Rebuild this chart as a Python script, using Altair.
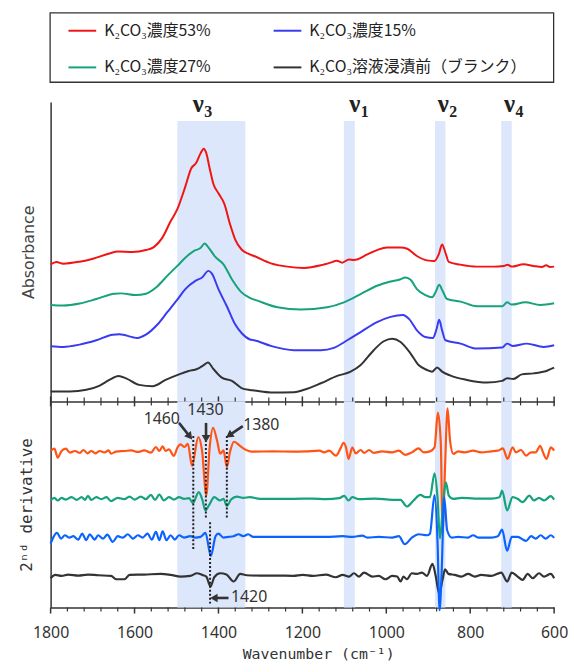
import math
import altair as alt
import pandas as pd

# ---------------- series ----------------
SERIES = ["K₂CO₃濃度53%", "K₂CO₃濃度15%", "K₂CO₃濃度27%", "K₂CO₃溶液浸漬前（ブランク）"]
TOP_COLORS = ["#f21414", "#3a3af2", "#16a27a", "#333333"]
BOT_COLORS = ["#ff5416", "#0b62ff", "#16a27a", "#333333"]
LEGEND_ORDER = [0, 2, 1, 3]   # legend fills column by column

# ---------------- absorbance (upper panel, a.u. as read) ----------------
abs53_wn = [1800, 1786, 1770, 1731, 1699, 1660, 1640, 1605, 1573, 1554, 1534, 1514, 1498, 1479, 1465, 1453,
            1443, 1435, 1430, 1420, 1412, 1400, 1386, 1372, 1360, 1345, 1329, 1315, 1275, 1236, 1196, 1156,
            1133, 1118, 1105, 1089, 1077, 1045, 1022, 998, 966, 950, 927, 903, 885, 875, 867, 859, 851, 824,
            784, 744, 720, 711, 701, 673, 649, 629, 619, 610, 600]
abs53_val = [138.3, 140.7, 139, 141, 144, 149.3, 151.3, 150.7, 152.7, 155.7, 165, 181.7, 194, 216.7, 235, 240.7,
             250, 255, 251.7, 233.3, 219.3, 210, 199.3, 178.3, 163.3, 153.3, 149, 146.7, 139.3, 136, 134.7, 137.3,
             140, 142, 140, 143.3, 142.7, 148.3, 152.7, 155.3, 155.3, 154, 146.7, 142.3, 141.7, 148.3, 158.3, 150,
             140.7, 138, 136, 136, 136.7, 138, 136, 138.3, 136.7, 135.7, 137.3, 135.7, 136]

abs27_wn = [1800, 1770, 1731, 1691, 1648, 1632, 1597, 1573, 1546, 1522, 1498, 1479, 1459, 1443, 1433, 1425,
            1408, 1388, 1368, 1345, 1325, 1307, 1259, 1204, 1141, 1101, 1061, 1022, 990, 970, 954, 942, 927,
            907, 891, 881, 874, 866, 855, 823, 784, 724, 712, 701, 669, 633, 600]
abs27_val = [97.3, 96.7, 98.7, 103.3, 108.7, 109, 107.3, 108.7, 116, 126.7, 136.7, 145, 151.7, 154.7, 159.3, 156,
             146, 138.3, 123.3, 110, 104.5, 101.7, 95, 92.7, 95, 100, 108.3, 116.7, 121, 122.7, 125, 122.7, 113.3,
             107.3, 105, 111.7, 117.7, 111.7, 103.3, 100.7, 96, 96, 100, 97.7, 100, 97.3, 99]

abs15_wn = [1800, 1770, 1731, 1691, 1652, 1636, 1593, 1573, 1546, 1522, 1498, 1479, 1455, 1439, 1424, 1416,
            1400, 1380, 1361, 1345, 1325, 1315, 1275, 1220, 1156, 1125, 1093, 1061, 1022, 990, 960, 946, 927,
            907, 889, 880, 874, 867, 859, 823, 784, 724, 712, 698, 665, 625, 600]
abs15_val = [55.7, 55, 57.3, 61.7, 67.3, 67.7, 64, 67.3, 77.3, 90, 102.7, 113.3, 121.7, 125, 131.7, 129.3,
             113.3, 96, 78.3, 69, 62.5, 61.7, 56, 51.7, 51.7, 54, 61.7, 70, 80, 85.3, 87.3, 83.3, 71.7,
             65, 64, 73.3, 82.3, 71.7, 61.7, 58.3, 53.3, 54.3, 58.3, 56, 58.3, 55, 56.7]

abs0_wn = [1800, 1754, 1715, 1683, 1660, 1638, 1620, 1589, 1557, 1526, 1494, 1471, 1451, 1435, 1425, 1412,
           1392, 1368, 1345, 1325, 1315, 1275, 1220, 1196, 1156, 1117, 1085, 1061, 1030, 1006, 986, 966, 942,
           923, 903, 891, 879, 867, 847, 808, 760, 724, 712, 697, 677, 649, 617, 600]
abs0_val = [10, 10, 11.7, 16, 21.7, 25.7, 23.3, 16.7, 15.3, 21.7, 27.3, 30.7, 32.7, 36.7, 39.3, 32.7,
            24, 20.7, 13.5, 11.5, 11, 9, 9.3, 11.7, 18.3, 25.7, 30, 36.7, 51.7, 60.7, 63.3, 60, 48.3,
            36.7, 31.7, 30, 34.3, 30, 26, 21.7, 19, 20.7, 23.3, 22.7, 27.3, 28.3, 31, 34]

# ---------------- 2nd derivative (lower panel, relative to own baseline) ----------------
d53_wn = [1800, 1791, 1783, 1774, 1764, 1754, 1742, 1730, 1722, 1712, 1703, 1693, 1683, 1671, 1662, 1656,
          1644, 1624, 1608, 1592, 1577, 1561, 1549, 1541, 1533, 1526, 1518, 1506, 1498, 1490, 1481, 1473,
          1463, 1448, 1439, 1429, 1421, 1413, 1403, 1396, 1388, 1380, 1372, 1363, 1348, 1337, 1321, 1270,
          1222, 1191, 1159, 1148, 1136, 1120, 1108, 1102, 1096, 1090, 1081, 1073, 1061, 1053, 1041, 1030,
          1010, 986, 970, 955, 939, 923, 911, 896, 885, 877, 870, 866, 860, 854, 848, 840, 829, 813, 793,
          774, 750, 734, 722, 711, 699, 691, 679, 667, 655, 644, 633, 628, 618, 608, 600]
d53_val = [0.7, 3, -6, 0.7, 3, -1, 0.7, -1.3, 1.7, -1.7, 0.7, -1.7, 0.7, -0.7, 1.3, -2,
           0, 0.7, 1.3, -0.3, 1.3, -1, 4.7, 0.7, 5.3, 0.7, 2.3, -4.3, 4, 7.3, 4.7, 8,
           -14.3, 14.7, 0.7, -44, 4, 24, 10.7, -2, 1.3, -15.3, 0.7, 10, 5.7, 2.3, 0, 0.3,
           0, 0.3, 1, -0.7, 1, -4, 4.3, 9, 4.3, -7.3, 4.3, -1.7, 1.7, -1.3, 1.7, -1.3,
           0.3, -0.7, 1, -3.3, -0.7, 3.3, -0.7, 0.3, 4.3, 39.3, 7.7, -82.3, -15.7, 43.7, 11, -2.3, 0.3, -0.7, 1,
           -0.7, 0.3, 1, 3.3, -7.3, 4.3, -0.7, 1.7, -4, -0.7, -0.7, 6, 1, -7.3, 4.3, 1]

d27_wn = [1800, 1791, 1783, 1774, 1764, 1750, 1738, 1726, 1718, 1711, 1703, 1691, 1679, 1667, 1656, 1640,
          1624, 1612, 1600, 1585, 1573, 1561, 1551, 1541, 1530, 1518, 1506, 1494, 1482, 1470, 1461, 1447,
          1439, 1431, 1422, 1410, 1396, 1388, 1380, 1370, 1356, 1341, 1325, 1301, 1262, 1222, 1175, 1144,
          1112, 1100, 1090, 1081, 1065, 1026, 986, 966, 951, 935, 919, 907, 896, 885, 878, 872, 864, 858,
          851, 840, 821, 789, 750, 730, 724, 712, 699, 687, 675, 659, 648, 636, 624, 608, 600]
d27_val = [-1.7, 1, -1.7, 1, -0.7, 1.7, -1, 1.7, -1, 3, -1, 1.7, -0.3, 1.7, -2.3, 1,
           -0.3, 2.3, -0.7, 2.3, -0.3, 4, -1, 4.3, -1.7, 1.7, -0.7, 1.7, 0, 0.7, -4.3, 6.7,
           0, -11.7, -6, 1.7, -1.7, 0, -7, -0.7, 2.3, 1, 1.7, 0, 0, 0, 0.3, -0.3,
           0.7, 3, -1.7, 1.7, -0.3, 0.3, -1, -1, -7.7, -1.7, 4, 1.7, 1.7, 25.7, 1.7, -40, -1.7, 16.7,
           3.3, 0, 1, 0.3, 0.3, 1.7, 8.3, -11.7, 1.7, 0, -3.3, 3.3, -1.7, 1, -1.7, 2.7, -0.7]

d15_wn = [1800, 1793, 1785, 1775, 1766, 1756, 1746, 1734, 1725, 1715, 1707, 1695, 1687, 1675, 1665, 1652,
          1640, 1628, 1616, 1604, 1592, 1581, 1569, 1559, 1549, 1541, 1533, 1524, 1514, 1504, 1494, 1482,
          1467, 1455, 1443, 1431, 1418, 1407, 1400, 1388, 1376, 1364, 1352, 1341, 1329, 1317, 1262, 1222,
          1144, 1104, 1081, 1057, 1045, 1018, 986, 970, 956, 939, 923, 903, 896, 885, 878, 873, 868, 862,
          855, 844, 829, 805, 793, 781, 750, 734, 724, 712, 701, 687, 667, 655, 644, 632, 620, 608, 600]
d15_val = [-6.7, 0, 4, -1.7, 1.7, -0.7, 0.7, -2.7, 3.3, -3.3, 2.7, -2.7, 1.7, -1.7, 2.3, -5,
           0.7, -0.7, 2.7, -1.7, 1.7, -0.7, 3.3, -2.7, 5, -3.3, 5.7, -3.3, 1.7, -2.7, 1.7, -0.7,
           0.7, -0.7, 0, 4, -19.3, 0.7, 3.3, -0.7, 0, 0.7, 2.7, 0.7, 2.7, 0, 0, 0,
           0, 0.7, 0, 1.3, -0.7, 0, -0.7, 0.7, -7.3, -0.7, 2.7, 1.7, 3.3, 42.3, -3.3, -74, -35, 40,
           6.7, -0.7, 0, -0.7, 1.7, -0.7, -0.7, 0.7, 7.3, -14, 0, 0, -4, 0.7, -1.7, 1.7, -1.7, 1.7, -1]

d0_wn = [1800, 1789, 1774, 1758, 1734, 1711, 1687, 1656, 1644, 1624, 1612, 1577, 1537, 1514, 1490, 1467,
         1451, 1439, 1429, 1419, 1410, 1396, 1381, 1364, 1348, 1333, 1301, 1262, 1222, 1199, 1175, 1144,
         1120, 1104, 1089, 1077, 1065, 1053, 1033, 1018, 1002, 986, 974, 966, 959, 951, 939, 927, 915,
         903, 890, 882, 874, 866, 860, 852, 837, 821, 805, 789, 774, 750, 726, 712, 701, 687, 675, 663,
         651, 636, 624, 608, 600]
d0_val = [-2.7, 0.7, -0.3, 1, 0, 1, 0.3, -0.3, -3.7, -3.7, 0.7, 1, 1.7, 0.7, -1, -0.3,
          2.3, 0.7, -1, -11, -1.7, 2.3, 1, -6, 1.7, 0.3, 0, 0, -0.3, 0.7, -0.3, 1,
          -1.7, 0.7, -1, 2.3, -1, 3, -1, -0.3, -3.7, -0.3, -1, -6, -1, -3.7, 2.3, 1.7, 3,
          -0.3, 11.7, -1, -18.3, -4.3, 6.3, 1.7, 0.7, -1, 1.7, -1, 0.7, -0.3, 3, -6, 3, -1, -4.3, 1.7,
          -2.7, 2.3, -1, 1.7, -2.7]

DERIV_OFFSET = [157.3, 71.3, 109.7, 32.3]   # vertical stacking of the derivative traces

# ---------------- bands and labels ----------------
band_name = ["ν3", "ν1", "ν2", "ν4"]
band_start = [1498, 1101, 884, 726]
band_end = [1336, 1075, 859, 701]
nu_wn = [1448, 1075, 864, 706]
nu_sub = ["3", "1", "2", "4"]

# ---------------- 2nd-derivative annotations ----------------
mark_wn = [1460, 1430, 1380, 1420]
mark_top = [173, 173, 173, 86]
mark_bottom = [58, 90, 90, 3]
ann_text = ["1460", "1430", "1380", "1420"]
ann_wn = [1535, 1431, 1298, 1327]
ann_val = [190.5, 199, 184, 10.5]
arr_from_wn = [1494, 1429.6, 1342, 1376]
arr_from_val = [186.3, 186.3, 183, 9.7]
arr_to_wn = [1470, 1429.6, 1372, 1408]
arr_to_val = [173.5, 171.5, 174.5, 9.7]

# ---------------- axis ticks ----------------
tick_major = [1800, 1600, 1400, 1200, 1000, 800, 600]
tick_minor = [t for t in range(600, 1801, 40) if t % 200 != 0]

# ---------------- layout constants ----------------
W, H_TOP, H_BOT = 508, 302, 208
BAND_COLOR = "#dce7fb"
AX = "#333333"

xs = alt.Scale(domain=[600, 1800], reverse=True, nice=False, zero=False)
ys_top = alt.Scale(domain=[0, H_TOP], nice=False, zero=False)
ys_bot = alt.Scale(domain=[0, H_BOT], nice=False, zero=False)


def frame(wn, val, name, offset=0.0):
    return pd.DataFrame({"wn": wn, "val": [v + offset for v in val], "series": name})


top_df = pd.concat([frame(abs53_wn, abs53_val, SERIES[0]), frame(abs15_wn, abs15_val, SERIES[1]),
                    frame(abs27_wn, abs27_val, SERIES[2]), frame(abs0_wn, abs0_val, SERIES[3])])
bot_frames = {
    SERIES[0]: frame(d53_wn, d53_val, SERIES[0], DERIV_OFFSET[0]),
    SERIES[1]: frame(d15_wn, d15_val, SERIES[1], DERIV_OFFSET[1]),
    SERIES[2]: frame(d27_wn, d27_val, SERIES[2], DERIV_OFFSET[2]),
    SERIES[3]: frame(d0_wn, d0_val, SERIES[3], DERIV_OFFSET[3]),
}
band_df = pd.DataFrame({"name": band_name, "start": band_start, "end": band_end})
nu_df = pd.DataFrame({"wn": nu_wn, "sub": nu_sub})
ticks_df = pd.DataFrame({"t": tick_major + tick_minor,
                         "major": [True] * len(tick_major) + [False] * len(tick_minor)})
mark_df = pd.DataFrame({"wn": mark_wn, "top": mark_top, "bottom": mark_bottom})
ann_df = pd.DataFrame({"text": ann_text, "wn": ann_wn, "val": ann_val})
px_x = W / 1200.0
angles = []
for fw, fv, tw, tv in zip(arr_from_wn, arr_from_val, arr_to_wn, arr_to_val):
    dx = (fw - tw) * px_x
    dy = (fv - tv)
    angles.append(math.degrees(math.atan2(dx, -dy)) % 360)
arr_df = pd.DataFrame({"fw": arr_from_wn, "fv": arr_from_val, "tw": arr_to_wn, "tv": arr_to_val, "ang": angles})

# ---------------- axes ----------------
x_top_axis = alt.Axis(labels=False, ticks=False, title=None, grid=False, domainColor=AX, domainWidth=1.5)
y_top_axis = alt.Axis(labels=False, ticks=False, grid=False, title="Absorbance", titleFont="DejaVu Sans",
                      titleFontSize=16, titleFontWeight="normal", titleColor="#444444", titlePadding=14,
                      domainColor=AX, domainWidth=1.5)
x_bot_axis = alt.Axis(values=tick_major, format="d", ticks=False, tickSize=0, grid=False, labelPadding=17,
                      labelFont="Noto Sans", labelFontSize=16, labelColor="#333333",
                      title="Wavenumber (cm⁻¹)", titleFont="DejaVu Sans Mono", titleFontSize=15,
                      titleFontWeight="normal", titleColor="#333333", titlePadding=6, titleX=270,
                      domainColor=AX, domainWidth=1.5, labelFlush=False)
y_bot_axis = alt.Axis(labels=False, ticks=False, grid=False, title="2ⁿᵈ derivative", titleFont="DejaVu Sans Mono",
                      titleFontSize=16, titleFontWeight="normal", titleColor="#333333", titlePadding=16,
                      domainColor=AX, domainWidth=1.5)

# ---------------- upper panel ----------------
bands_top = alt.Chart(band_df).mark_rect(color=BAND_COLOR).encode(
    x=alt.X("start:Q", scale=xs, axis=x_top_axis), x2="end:Q",
    y=alt.value(19), y2=alt.value(H_TOP))

legend = alt.Legend(orient="none", legendX=17, legendY=-87, columns=2, title=None,
                    symbolType="stroke", symbolSize=784, symbolStrokeWidth=2, symbolOffset=0,
                    labelOffset=7, labelFont="Noto Sans CJK JP", labelFontSize=16, labelColor="#222222",
                    labelLimit=400, columnPadding=59, rowPadding=14, padding=0)

# frame drawn around the legend entries
legend_box = alt.Chart(pd.DataFrame({"box": [0]})).mark_rect(
    filled=False, stroke="#333333", strokeWidth=1.3).encode(
    x=alt.value(-0.5), x2=alt.value(W - 0.5), y=alt.value(-90), y2=alt.value(-20))

lines_top = alt.Chart(top_df).mark_line(strokeWidth=2, interpolate="monotone").encode(
    x=alt.X("wn:Q", scale=xs, axis=x_top_axis),
    y=alt.Y("val:Q", scale=ys_top, axis=y_top_axis),
    color=alt.Color("series:N",
                    scale=alt.Scale(domain=[SERIES[i] for i in LEGEND_ORDER],
                                    range=[TOP_COLORS[i] for i in LEGEND_ORDER]),
                    legend=legend),
    detail="series:N")

nu_main = alt.Chart(nu_df).mark_text(text="ν", font="Liberation Serif", fontWeight="bold", fontSize=25,
                                     baseline="alphabetic", align="center", color="#222222").encode(
    x=alt.X("wn:Q", scale=xs, axis=x_top_axis), y=alt.value(10))
nu_subs = alt.Chart(nu_df).mark_text(font="Liberation Serif", fontWeight="bold", fontSize=16,
                                     baseline="alphabetic", align="left", dx=6, color="#222222").encode(
    x=alt.X("wn:Q", scale=xs, axis=x_top_axis), y=alt.value(15), text="sub:N")

ticks_top_minor = alt.Chart(ticks_df).transform_filter("!datum.major").mark_rule(color=AX, strokeWidth=1.2).encode(
    x=alt.X("t:Q", scale=xs, axis=x_top_axis), y=alt.value(H_TOP - 4), y2=alt.value(H_TOP + 4))
ticks_top_major = alt.Chart(ticks_df).transform_filter("datum.major").mark_rule(color=AX, strokeWidth=1.5).encode(
    x=alt.X("t:Q", scale=xs, axis=x_top_axis), y=alt.value(H_TOP - 5), y2=alt.value(H_TOP + 5))

top = alt.layer(bands_top, legend_box, lines_top, nu_main, nu_subs, ticks_top_minor, ticks_top_major).properties(
    width=W, height=H_TOP)

# ---------------- lower panel ----------------
bands_bot = alt.Chart(band_df).mark_rect(color=BAND_COLOR).encode(
    x=alt.X("start:Q", scale=xs, axis=x_bot_axis), x2="end:Q",
    y=alt.value(0), y2=alt.value(H_BOT))

bot_lines = []
for name in [SERIES[3], SERIES[0], SERIES[2], SERIES[1]]:
    bot_lines.append(alt.Chart(bot_frames[name]).mark_line(strokeWidth=2.2, interpolate="monotone").encode(
        x=alt.X("wn:Q", scale=xs, axis=x_bot_axis),
        y=alt.Y("val:Q", scale=ys_bot, axis=y_bot_axis),
        color=alt.Color("series:N", scale=alt.Scale(domain=SERIES, range=BOT_COLORS), legend=None)))

markers = alt.Chart(mark_df).mark_rule(color="#222222", strokeWidth=2, strokeDash=[2, 2]).encode(
    x=alt.X("wn:Q", scale=xs, axis=x_bot_axis), y=alt.Y("top:Q", scale=ys_bot, axis=y_bot_axis), y2="bottom:Q")

shafts = alt.Chart(arr_df).mark_rule(color="#333333", strokeWidth=2.6).encode(
    x=alt.X("fw:Q", scale=xs, axis=x_bot_axis), x2="tw:Q",
    y=alt.Y("fv:Q", scale=ys_bot, axis=y_bot_axis), y2="tv:Q")
heads = alt.Chart(arr_df).mark_point(shape="triangle", filled=True, size=75, color="#333333", opacity=1).encode(
    x=alt.X("tw:Q", scale=xs, axis=x_bot_axis), y=alt.Y("tv:Q", scale=ys_bot, axis=y_bot_axis),
    angle=alt.Angle("ang:Q", scale=None))
ann = alt.Chart(ann_df).mark_text(font="Noto Sans", fontSize=16, color="#333333", baseline="middle",
                                  align="center").encode(
    x=alt.X("wn:Q", scale=xs, axis=x_bot_axis), y=alt.Y("val:Q", scale=ys_bot, axis=y_bot_axis), text="text:N")

ticks_bot_minor = alt.Chart(ticks_df).transform_filter("!datum.major").mark_rule(color=AX, strokeWidth=1.2).encode(
    x=alt.X("t:Q", scale=xs, axis=x_bot_axis), y=alt.value(H_BOT), y2=alt.value(H_BOT + 4))
ticks_bot_major = alt.Chart(ticks_df).transform_filter("datum.major").mark_rule(color=AX, strokeWidth=1.5).encode(
    x=alt.X("t:Q", scale=xs, axis=x_bot_axis), y=alt.value(H_BOT), y2=alt.value(H_BOT + 6))

bottom = alt.layer(bands_bot, *bot_lines, markers, shafts, heads, ann, ticks_bot_minor, ticks_bot_major).properties(
    width=W, height=H_BOT)

chart = alt.vconcat(top, bottom, spacing=0, bounds="flush").resolve_scale(
    color="independent").properties(
    padding={"left": 11, "top": 1, "right": 0, "bottom": 0}
).configure_view(stroke=None).configure_axis(grid=False)

chart.save("out.html", embed_options={"renderer": "svg", "actions": False})
